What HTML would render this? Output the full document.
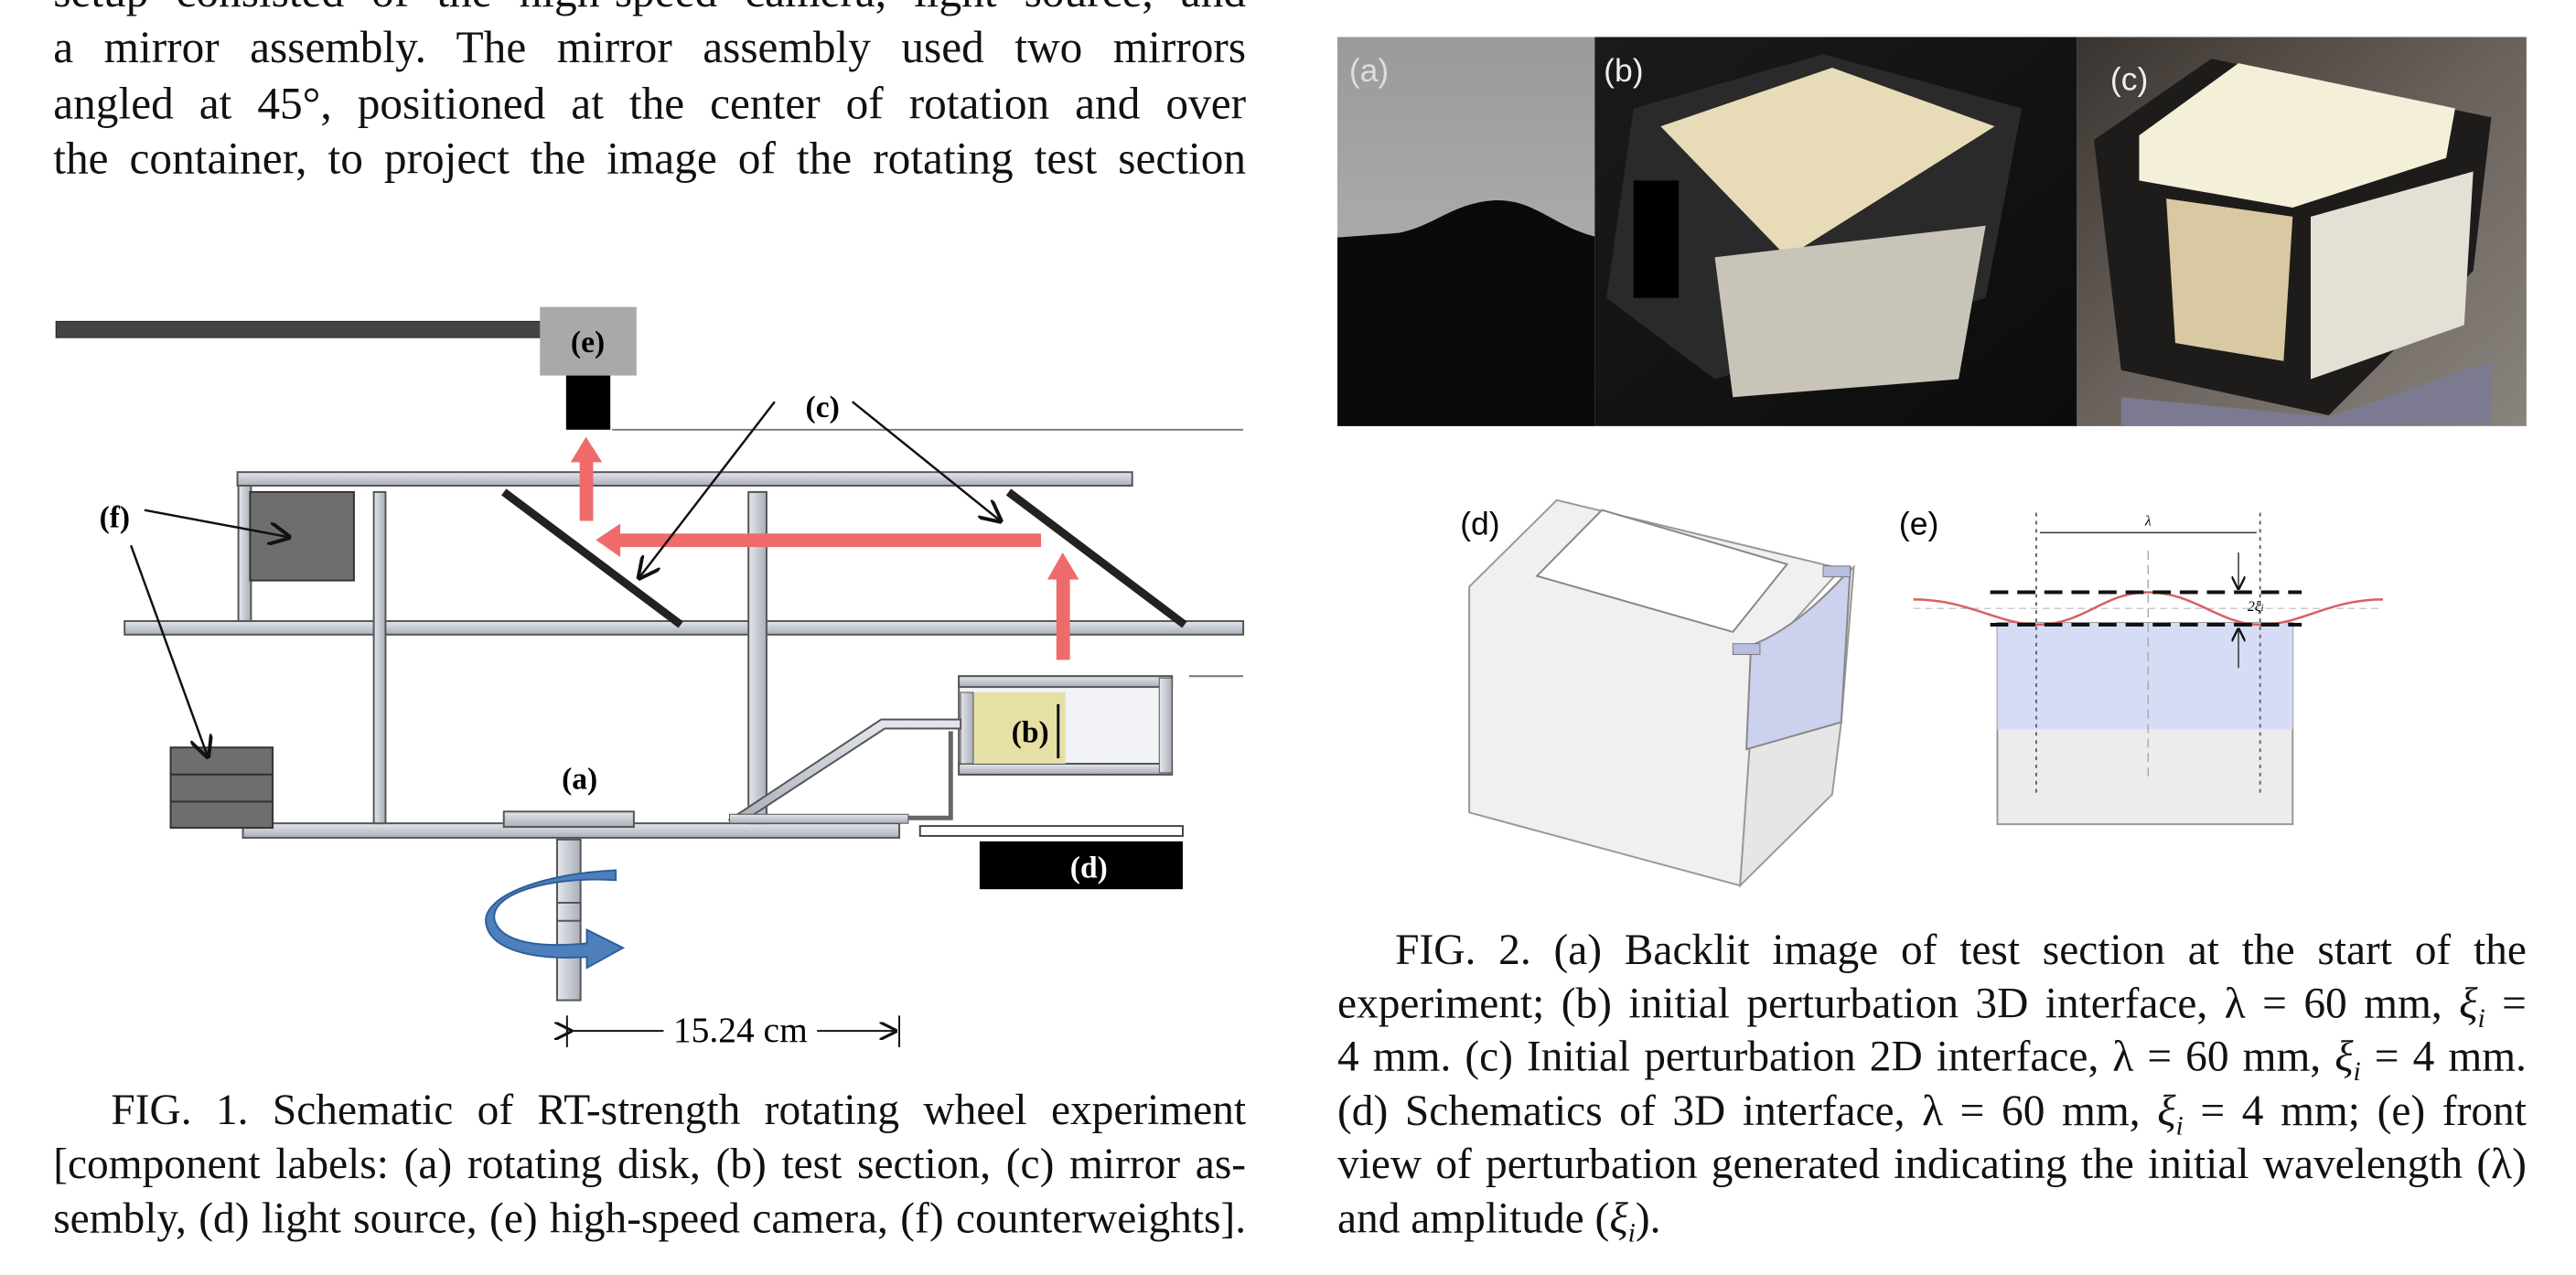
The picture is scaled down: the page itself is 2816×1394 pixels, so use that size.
<!DOCTYPE html>
<html><head><meta charset="utf-8">
<style>
html,body{margin:0;padding:0;background:#fff;}
#page{position:relative;width:2816px;height:1394px;overflow:hidden;background:#fff;font-family:"Liberation Serif",serif;color:#111;}
.wrap{position:absolute;left:0;top:0;width:2816px;height:1394px;}
#leftw{transform:scale(0.987);transform-origin:0 0;}
#rightw{transform:scale(0.987);transform-origin:1462px 0;}
.ln{position:absolute;font-size:48px;line-height:60px;height:60px;white-space:nowrap;text-align:justify;text-align-last:justify;}
.lnl{position:absolute;font-size:48px;line-height:60px;height:60px;white-space:nowrap;}
.big{font-size:50px;}
svg{position:absolute;left:0;top:0;}
.lbl{font-family:"Liberation Serif",serif;font-weight:bold;font-size:34px;}
.sl{font-family:"Liberation Sans",sans-serif;font-size:36px;}
</style></head>
<body>
<div id="page">
<div id="leftw" class="wrap">
<svg width="2816" height="1394">
 <defs>
  <linearGradient id="rail" x1="0" y1="0" x2="0" y2="1"><stop offset="0" stop-color="#e4e7ee"/><stop offset="1" stop-color="#a9aeb8"/></linearGradient>
  <linearGradient id="vrail" x1="0" y1="0" x2="1" y2="0"><stop offset="0" stop-color="#e4e7ee"/><stop offset="1" stop-color="#a9aeb8"/></linearGradient>
  <marker id="ah" markerWidth="10" markerHeight="10" refX="9" refY="5" orient="auto"><path d="M0,0 L10,5 L0,10" fill="none" stroke="#111" stroke-width="1.6"/></marker>
 </defs>
 <g>
  <rect x="62" y="356" width="538" height="18" fill="#444" stroke="#222"/>
  <rect x="598" y="340" width="107" height="76" fill="#a9a9a9"/>
  <text x="651" y="390" text-anchor="middle" class="lbl">(e)</text>
  <rect x="627" y="416" width="49" height="60" fill="#000"/>
  <line x1="678" y1="476" x2="1377" y2="476" stroke="#777" stroke-width="2"/>
  <line x1="1317" y1="749" x2="1377" y2="749" stroke="#777" stroke-width="2"/>
  <rect x="263" y="523" width="991" height="15" fill="url(#rail)" stroke="#555" stroke-width="2"/>
  <rect x="138" y="688" width="1239" height="15" fill="url(#rail)" stroke="#555" stroke-width="2"/>
  <rect x="269" y="912" width="727" height="16" fill="url(#rail)" stroke="#555" stroke-width="2"/>
  <rect x="264" y="538" width="14" height="150" fill="url(#vrail)" stroke="#555" stroke-width="2"/>
  <rect x="414" y="545" width="13" height="367" fill="url(#vrail)" stroke="#555" stroke-width="2"/>
  <rect x="829" y="545" width="20" height="367" fill="url(#vrail)" stroke="#555" stroke-width="2"/>
  <rect x="277" y="545" width="115" height="98" fill="#6e6e6e" stroke="#333" stroke-width="2"/>
  <rect x="189" y="828" width="113" height="30" fill="#6e6e6e" stroke="#333" stroke-width="2"/>
  <rect x="189" y="858" width="113" height="30" fill="#6e6e6e" stroke="#333" stroke-width="2"/>
  <rect x="189" y="888" width="113" height="29" fill="#6e6e6e" stroke="#333" stroke-width="2"/>
  <line x1="558" y1="545" x2="754" y2="692" stroke="#222" stroke-width="9"/>
  <line x1="1117" y1="545" x2="1312" y2="692" stroke="#222" stroke-width="9"/>
  <g fill="#ef6b6b">
   <rect x="1170" y="640" width="15" height="91"/><polygon points="1160,642 1195,642 1177,612"/>
   <rect x="685" y="591" width="468" height="15"/><polygon points="687,580 687,617 660,598"/>
   <rect x="642" y="510" width="15" height="67"/><polygon points="632,512 667,512 649,484"/>
  </g>
  <rect x="1062" y="749" width="236" height="109" fill="#f2f3f6" stroke="#555" stroke-width="2"/>
  <rect x="1062" y="749" width="236" height="12" fill="url(#rail)" stroke="#555" stroke-width="2"/>
  <rect x="1062" y="846" width="236" height="12" fill="url(#rail)" stroke="#555" stroke-width="2"/>
  <rect x="1076" y="767" width="104" height="79" fill="#e6e0a6"/>
  <rect x="1064" y="767" width="14" height="79" fill="url(#vrail)" stroke="#555"/>
  <rect x="1284" y="751" width="14" height="105" fill="url(#vrail)" stroke="#555"/>
  <line x1="1172" y1="780" x2="1172" y2="840" stroke="#111" stroke-width="3"/>
  <text x="1141" y="822" text-anchor="middle" class="lbl">(b)</text>
  <polygon points="808,908 976,797 1064,797 1064,807 980,807 820,912" fill="url(#rail)" stroke="#555" stroke-width="2"/>
  <path d="M1053,810 L1053,906 L1000,906" fill="none" stroke="#666" stroke-width="5"/>
  <rect x="808" y="902" width="198" height="10" fill="url(#rail)" stroke="#555"/>
  <rect x="558" y="899" width="144" height="17" fill="url(#rail)" stroke="#555" stroke-width="2"/>
  <text x="642" y="874" text-anchor="middle" class="lbl">(a)</text>
  <rect x="1019" y="915" width="291" height="11" fill="#fff" stroke="#444" stroke-width="2"/>
  <rect x="1085" y="932" width="225" height="53" fill="#000"/>
  <text x="1206" y="972" text-anchor="middle" class="lbl" fill="#fff">(d)</text>
  <rect x="617" y="930" width="26" height="178" fill="url(#vrail)" stroke="#555" stroke-width="2"/>
  <path d="M682,975 C610,970 540,990 548,1020 C556,1045 600,1050 650,1045 L650,1030 L690,1050 L650,1072 L650,1060 C590,1064 540,1052 538,1020 C538,992 600,968 682,964 Z" fill="#4e7fbd" stroke="#2f5f9a" stroke-width="2"/>
  <rect x="617" y="1000" width="26" height="20" fill="url(#vrail)" stroke="#555" stroke-width="2"/>
  <line x1="858" y1="445" x2="708" y2="640" stroke="#111" stroke-width="2.5" marker-end="url(#ah)"/>
  <line x1="944" y1="445" x2="1108" y2="577" stroke="#111" stroke-width="2.5" marker-end="url(#ah)"/>
  <text x="911" y="462" text-anchor="middle" class="lbl">(c)</text>
  <text x="127" y="584" text-anchor="middle" class="lbl">(f)</text>
  <line x1="160" y1="565" x2="320" y2="595" stroke="#111" stroke-width="2.5" marker-end="url(#ah)"/>
  <line x1="145" y1="604" x2="230" y2="838" stroke="#111" stroke-width="2.5" marker-end="url(#ah)"/>
  <line x1="628" y1="1125" x2="628" y2="1160" stroke="#111" stroke-width="2"/>
  <line x1="996" y1="1125" x2="996" y2="1160" stroke="#111" stroke-width="2"/>
  <line x1="632" y1="1142" x2="735" y2="1142" stroke="#111" stroke-width="2" marker-start="url(#ah)"/>
  <line x1="905" y1="1142" x2="992" y2="1142" stroke="#111" stroke-width="2" marker-end="url(#ah)"/>
  <text x="820" y="1154" text-anchor="middle" font-family="Liberation Serif" font-size="40">15.24 cm</text>
 </g>
</svg>
<div class="ln big" style="left:59px;width:1321px;top:-40px">setup consisted of the high-speed camera, light source, and</div>
<div class="ln big" style="left:59px;width:1321px;top:22px">a mirror assembly. The mirror assembly used two mirrors</div>
<div class="ln big" style="left:59px;width:1321px;top:84px">angled at 45°, positioned at the center of rotation and over</div>
<div class="ln big" style="left:59px;width:1321px;top:145px">the container, to project the image of the rotating test section</div>
<div class="ln" style="left:123px;width:1257px;top:1200px">FIG. 1. Schematic of RT-strength rotating wheel experiment</div>
<div class="ln" style="left:59px;width:1321px;top:1260px">[component labels: (a) rotating disk, (b) test section, (c) mirror as-</div>
<div class="ln" style="left:59px;width:1321px;top:1320px">sembly, (d) light source, (e) high-speed camera, (f) counterweights].</div>
</div>

<div id="rightw" class="wrap">
<svg width="2816" height="1394">
 <defs>
  <linearGradient id="pa" x1="0" y1="0" x2="0" y2="1"><stop offset="0" stop-color="#9a9a9a"/><stop offset="1" stop-color="#b9b9b9"/></linearGradient>
  <linearGradient id="pb" x1="0" y1="0" x2="1" y2="1"><stop offset="0" stop-color="#1a1a1a"/><stop offset="1" stop-color="#0c0c0c"/></linearGradient>
  <linearGradient id="pc" x1="0" y1="0" x2="1" y2="1"><stop offset="0" stop-color="#3a3430"/><stop offset="0.5" stop-color="#6a625c"/><stop offset="1" stop-color="#8a847e"/></linearGradient>
  <marker id="ah2" markerWidth="10" markerHeight="10" refX="9" refY="5" orient="auto"><path d="M0,0 L10,5 L0,10" fill="none" stroke="#111" stroke-width="1.6"/></marker>
 </defs>
 <g>
  <rect x="1462" y="41" width="285" height="431" fill="url(#pa)"/>
  <path d="M1462,263 L1530,258 C1570,250 1590,225 1635,222 C1680,220 1700,250 1747,262 L1747,472 L1462,472 Z" fill="#0a0a0a"/>
  <text x="1475" y="90" class="sl" fill="#ddd">(a)</text>
  <rect x="1747" y="41" width="534" height="431" fill="url(#pb)"/>
  <polygon points="1790,120 2000,60 2220,120 2180,330 1880,420 1760,330" fill="#2a2a2a"/>
  <polygon points="1820,140 2010,75 2190,140 1960,285" fill="#e8dcb8"/>
  <polygon points="1880,285 2180,250 2150,420 1900,440" fill="#c9c4b8"/>
  <rect x="1790" y="200" width="50" height="130" fill="#000"/>
  <text x="1757" y="90" class="sl" fill="#eee">(b)</text>
  <rect x="2281" y="41" width="498" height="431" fill="url(#pc)"/>
  <polygon points="2300,155 2430,65 2740,130 2720,300 2560,460 2330,410" fill="#1e1c1b"/>
  <path d="M2350,150 L2460,70 L2700,120 L2690,175 L2520,230 L2350,200 Z" fill="#f4efd9"/>
  <polygon points="2380,220 2520,240 2510,400 2390,380" fill="#d9c9a2"/>
  <polygon points="2540,240 2720,190 2710,360 2540,420" fill="#e5e0d6"/>
  <polygon points="2330,440 2560,462 2740,400 2740,470 2330,472" fill="#7c7a90"/>
  <text x="2318" y="100" class="sl" fill="#eee">(c)</text>
 </g>
 <g>
  <text x="1598" y="592" class="sl">(d)</text>
  <polygon points="1608,650 1705,554 2020,630 1925,735 1908,981 1608,900" fill="#f0f0f0" stroke="#999" stroke-width="2"/>
  <polygon points="1925,735 2034,628 2020,800 2010,880 1908,981" fill="#e6e6e6" stroke="#999" stroke-width="2"/>
  <polygon points="1683,638 1755,565 1960,625 1900,700" fill="#fff" stroke="#888" stroke-width="2"/>
  <path d="M1920,715 C1960,700 2000,665 2030,630 L2020,800 L1915,830 Z" fill="#ccd1ee" stroke="#888" stroke-width="2"/>
  <rect x="2000" y="627" width="30" height="12" fill="#b8bfe0" stroke="#777"/>
  <rect x="1900" y="713" width="30" height="12" fill="#b8bfe0" stroke="#777"/>
 </g>
 <g>
  <text x="2084" y="592" class="sl">(e)</text>
  <rect x="2193" y="690" width="327" height="223" fill="#ececec" stroke="#999" stroke-width="2"/>
  <rect x="2193" y="690" width="327" height="118" fill="#d6dcf6"/>
  <line x1="2236" y1="568" x2="2236" y2="880" stroke="#666" stroke-width="2" stroke-dasharray="4,5"/>
  <line x1="2484" y1="568" x2="2484" y2="880" stroke="#666" stroke-width="2" stroke-dasharray="4,5"/>
  <line x1="2360" y1="610" x2="2360" y2="860" stroke="#aaa" stroke-width="1.5" stroke-dasharray="10,6"/>
  <line x1="2100" y1="674" x2="2620" y2="674" stroke="#ccc" stroke-width="1.5" stroke-dasharray="8,5"/>
  <path d="M2100,664 C2160,664 2190,690 2236,692 C2290,692 2310,656 2360,656 C2410,656 2440,692 2484,692 C2530,692 2560,664 2620,664" fill="none" stroke="#d86060" stroke-width="2.5"/>
  <line x1="2185" y1="656" x2="2530" y2="656" stroke="#111" stroke-width="4" stroke-dasharray="20,10"/>
  <line x1="2185" y1="692" x2="2530" y2="692" stroke="#111" stroke-width="4" stroke-dasharray="20,10"/>
  <line x1="2240" y1="590" x2="2480" y2="590" stroke="#333" stroke-width="1.5"/>
  <text x="2360" y="582" font-family="Liberation Serif" font-style="italic" font-size="16" text-anchor="middle">λ</text>
  <line x1="2460" y1="612" x2="2460" y2="652" stroke="#333" stroke-width="1.5" marker-end="url(#ah2)"/>
  <line x1="2460" y1="740" x2="2460" y2="697" stroke="#333" stroke-width="1.5" marker-end="url(#ah2)"/>
  <text x="2470" y="677" font-family="Liberation Serif" font-style="italic" font-size="16">2ξ<tspan font-size="11">i</tspan></text>
 </g>
</svg>
<div class="ln" style="left:1526px;width:1253px;top:1023px">FIG. 2. (a) Backlit image of test section at the start of the</div>
<div class="ln" style="left:1462px;width:1317px;top:1082px">experiment; (b) initial perturbation 3D interface, λ = 60 mm, <i>ξ<sub style="font-size:30px">i</sub></i> =</div>
<div class="ln" style="left:1462px;width:1317px;top:1141px">4 mm. (c) Initial perturbation 2D interface, λ = 60 mm, <i>ξ<sub style="font-size:30px">i</sub></i> = 4 mm.</div>
<div class="ln" style="left:1462px;width:1317px;top:1201px">(d) Schematics of 3D interface, λ = 60 mm, <i>ξ<sub style="font-size:30px">i</sub></i> = 4 mm; (e) front</div>
<div class="ln" style="left:1462px;width:1317px;top:1260px">view of perturbation generated indicating the initial wavelength (λ)</div>
<div class="lnl" style="left:1462px;top:1320px">and amplitude (<i>ξ<sub style="font-size:30px">i</sub></i>).</div>
</div>
</div>
</body></html>
